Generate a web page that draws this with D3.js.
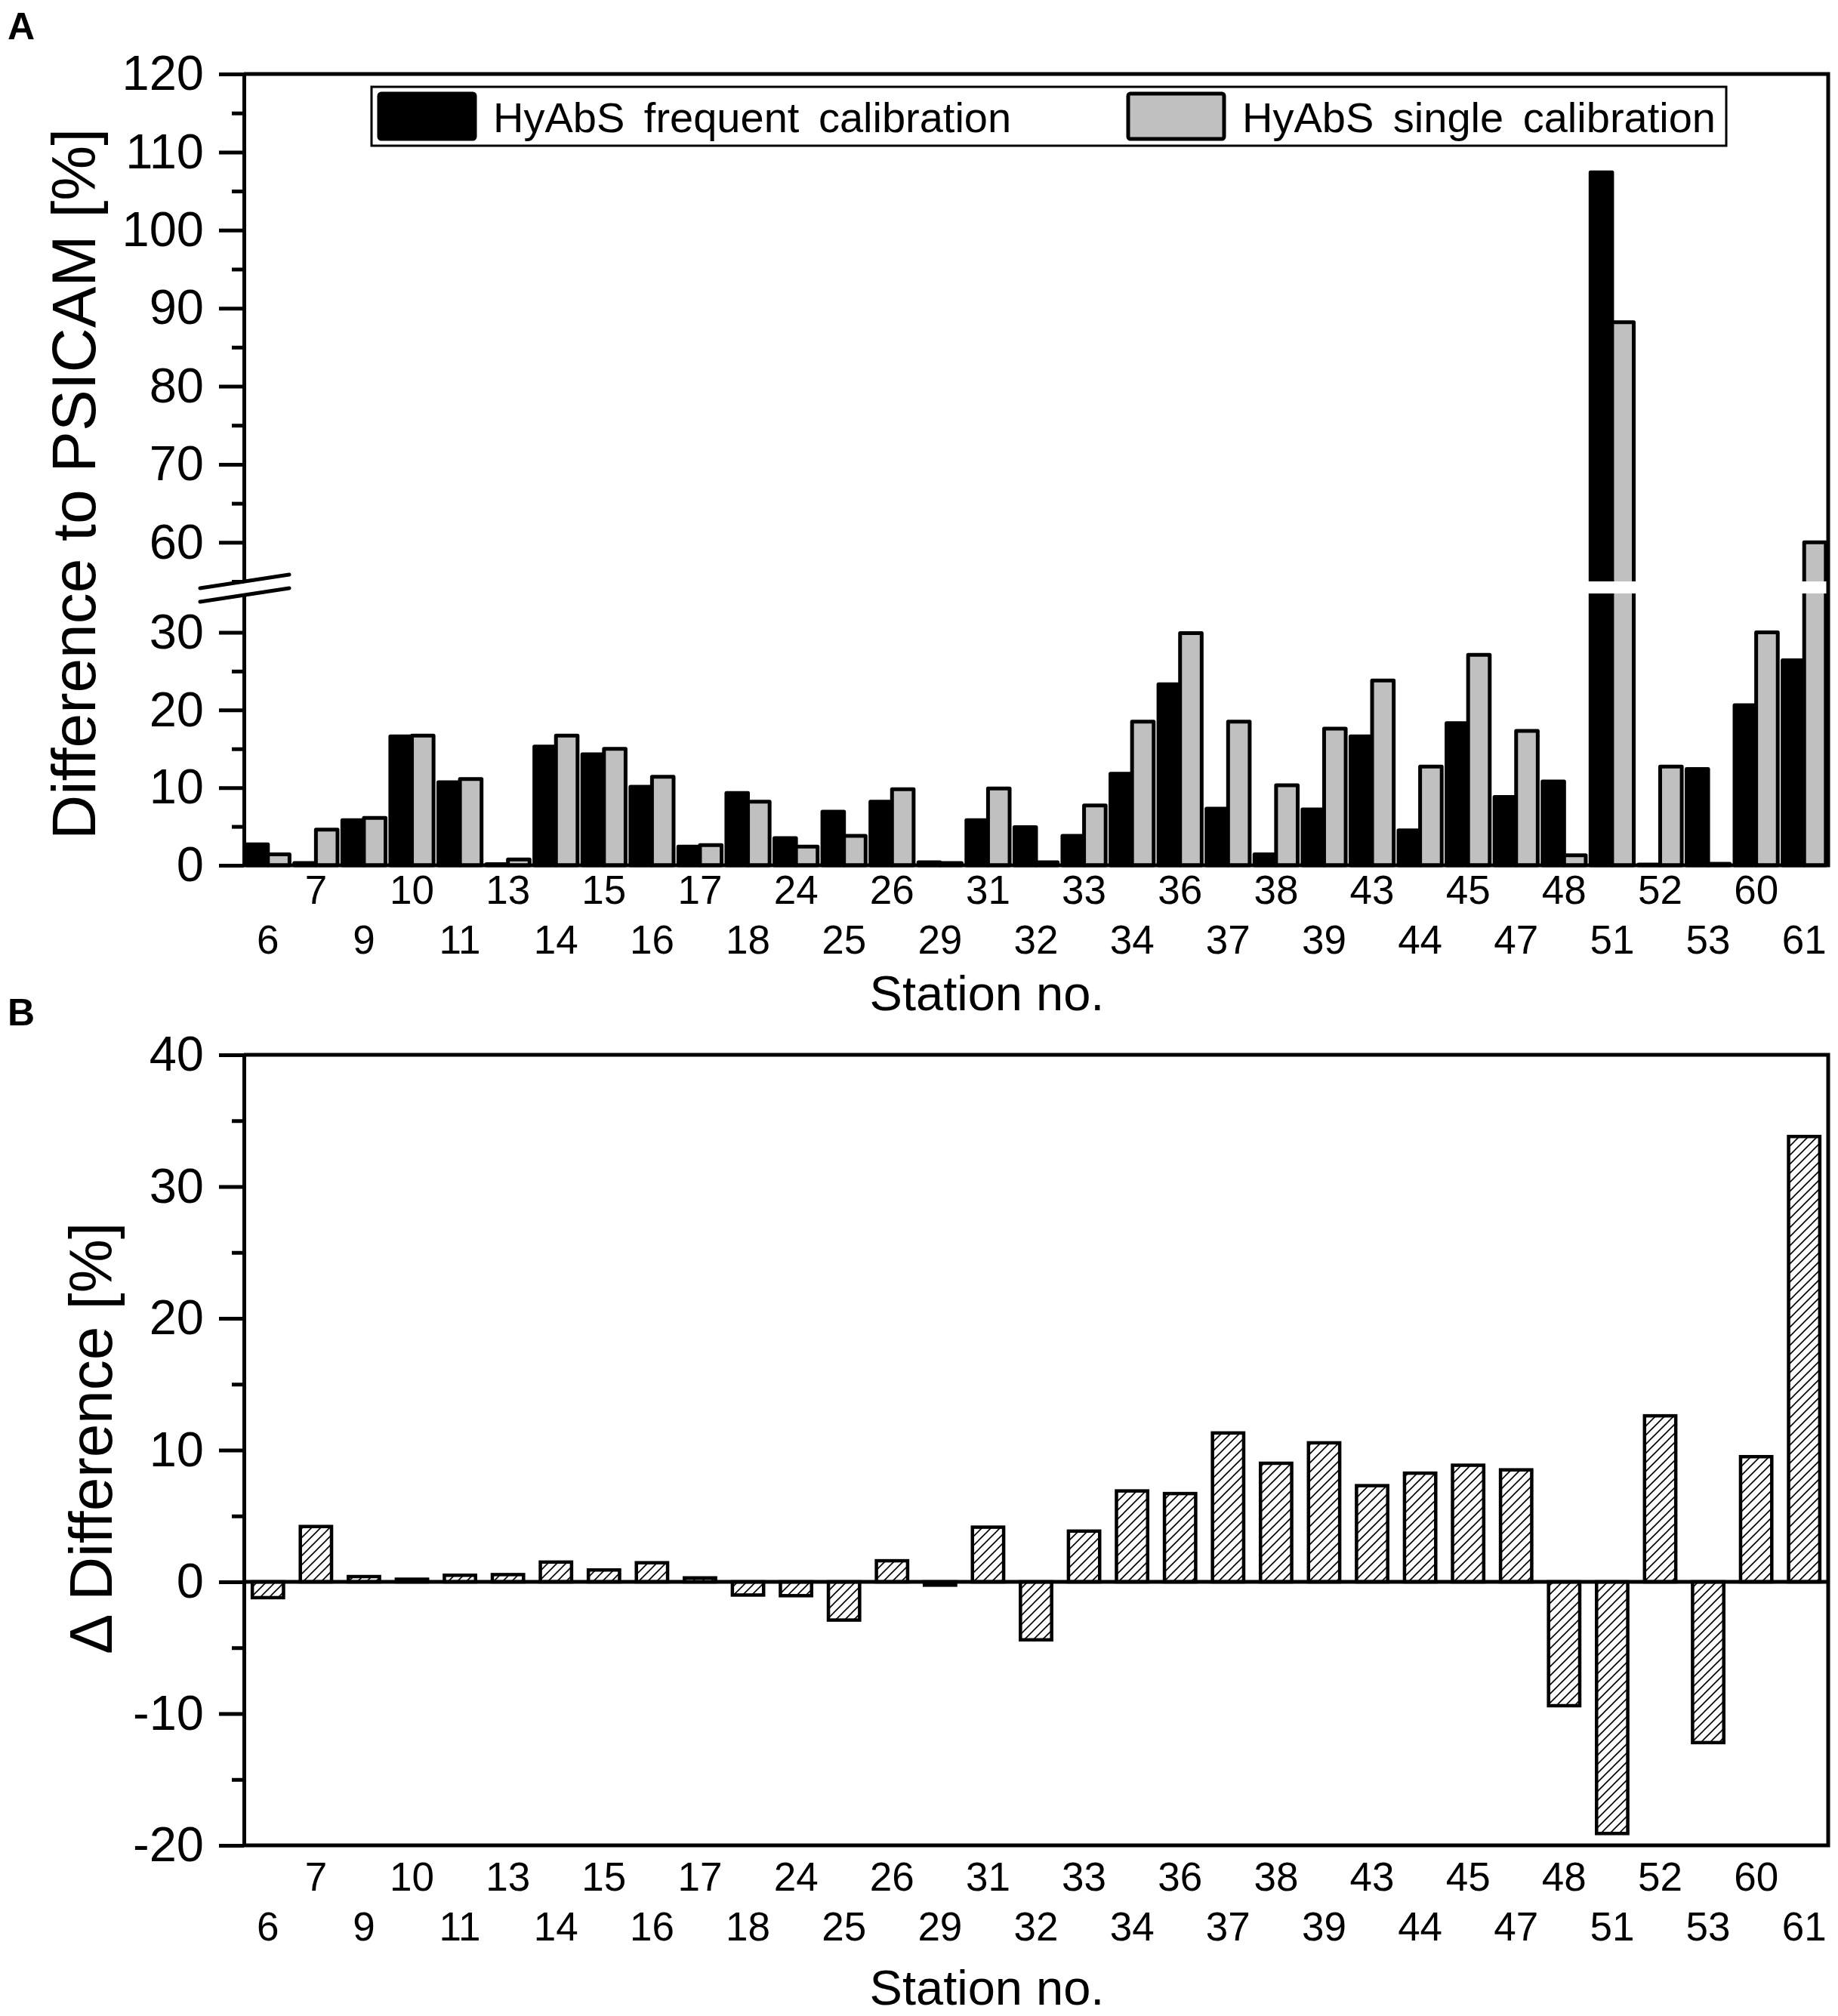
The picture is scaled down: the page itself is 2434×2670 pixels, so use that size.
<!DOCTYPE html>
<html>
<head>
<meta charset="utf-8">
<script src="https://cdn.jsdelivr.net/npm/d3@7"></script>
<style>
  body { margin: 0; background: #fff; }
  svg { display: block; font-family: "Liberation Sans", Arial, sans-serif; }
</style>
</head>
<body>
<div id="chart"></div>
<script>
// station numbers along the x axis
const stations = [6, 7, 9, 10, 11, 13, 14, 15, 16, 17, 18, 24, 25, 26, 29, 31, 32,
  33, 34, 36, 37, 38, 39, 43, 44, 45, 47, 48, 51, 52, 53, 60, 61];

// panel A: difference to PSICAM [%]
const frequentCal = [2.7, 0.3, 5.8, 16.6, 10.7, 0.15, 15.3, 14.3, 10.1, 2.4, 9.3, 3.5, 6.9,
  8.2, 0.4, 5.8, 4.9, 3.8, 11.8, 23.3, 7.3, 1.4, 7.2, 16.6, 4.5, 18.3, 8.8, 10.8,
  107.4, 0.1, 12.4, 20.6, 26.4];
const singleCal = [1.4, 4.6, 6.1, 16.7, 11.1, 0.75, 16.7, 15.0, 11.4, 2.6, 8.2, 2.4, 3.8,
  9.8, 0.3, 9.9, 0.4, 7.7, 18.5, 29.9, 18.5, 10.3, 17.6, 23.8, 12.7, 27.1, 17.3, 1.3,
  88.2, 12.7, 0.2, 30.0, 60.0];

// panel B: delta difference [%]
const deltaDiff = [-1.2, 4.2, 0.4, 0.2, 0.5, 0.55, 1.5, 0.9, 1.45, 0.3, -1.0, -1.05, -2.9,
  1.6, -0.25, 4.15, -4.4, 3.85, 6.9, 6.7, 11.3, 9.0, 10.55, 7.3, 8.25, 8.85, 8.5,
  -9.4, -19.1, 12.6, -12.2, 9.5, 33.8];

const seriesNames = ["HyAbS frequent calibration", "HyAbS single calibration"];
const ticksAUpper = [60, 70, 80, 90, 100, 110, 120];
const ticksALower = [0, 10, 20, 30];
const ticksB = [-20, -10, 0, 10, 20, 30, 40];

const W = 2434, H = 2670;
const left = 323, right = 2421;
const grey = "#c0c0c0";
const axisW = 5;

const svg = d3.select("#chart").append("svg")
  .attr("width", W).attr("height", H);

// hatch pattern for panel B
svg.append("defs").append("pattern")
  .attr("id", "hatch")
  .attr("patternUnits", "userSpaceOnUse")
  .attr("width", 12).attr("height", 12)
  .append("path")
  .attr("d", "M-3,3 L3,-3 M0,12 L12,0 M9,15 L15,9")
  .attr("stroke", "black").attr("stroke-width", 1.6);

function styleAxis(g, fontSize) {
  g.selectAll(".tick line").attr("stroke", "black").attr("stroke-width", axisW);
  g.select(".domain").attr("stroke", "black").attr("stroke-width", axisW);
  g.selectAll("text").attr("fill", "black").style("font-size", fontSize + "px")
    .style("font-family", "'Liberation Sans', Arial, sans-serif");
}

function stationLabels(g, x, axisY, off1, off2) {
  const ax = g.append("g").attr("transform", `translate(0,${axisY})`)
    .call(d3.axisBottom(x).tickSize(0).tickSizeOuter(0));
  ax.select(".domain").remove();
  ax.selectAll(".tick text")
    .attr("dy", 0)
    .attr("y", (d, i) => i % 2 ? off1 : off2)
    .attr("fill", "black")
    .style("font-size", "53px")
    .style("font-family", "'Liberation Sans', Arial, sans-serif");
}

// ---------------- Panel A ----------------
const aTop = 98, aBottom = 1146, gapTop = 770, gapBottom = 786;
const yLow = d3.scaleLinear().domain([0, 35]).range([aBottom, gapBottom]);
const yHigh = d3.scaleLinear().domain([55, 120]).range([gapTop, aTop]);
const yA = v => v <= 35 ? yLow(v) : yHigh(v);

const xA = d3.scaleBand().domain(stations).range([left, right])
  .paddingInner(0.1).paddingOuter(0.05);
const xSub = d3.scaleBand().domain([0, 1]).range([0, xA.bandwidth()]);

const gA = svg.append("g");

const rowsA = stations.map((s, i) => ({ s, vals: [frequentCal[i], singleCal[i]] }));
const groups = gA.selectAll("g.grp").data(rowsA).join("g")
  .attr("class", "grp")
  .attr("transform", d => `translate(${xA(d.s)},0)`);

groups.selectAll("rect").data(d => d.vals.map((v, k) => ({ v, k }))).join("rect")
  .attr("x", d => xSub(d.k))
  .attr("width", xSub.bandwidth())
  .attr("y", d => yA(d.v))
  .attr("height", d => aBottom - yA(d.v))
  .attr("fill", d => d.k === 0 ? "black" : grey)
  .attr("stroke", "black")
  .attr("stroke-width", 5)
  .attr("stroke-linejoin", "round");

// white break band across the bars that go past the break
groups.selectAll("rect.gap").data(d => d.vals.map((v, k) => ({ v, k })).filter(e => e.v > 35))
  .join("rect").attr("class", "gap")
  .attr("x", d => xSub(d.k) - 4)
  .attr("width", xSub.bandwidth() + 8)
  .attr("y", gapTop)
  .attr("height", gapBottom - gapTop)
  .attr("fill", "white");

// y axes (two segments)
const upperMinor = d3.range(55, 120, 10);
const lowerMinor = [5, 15, 25];
gA.append("g").attr("transform", `translate(${left},0)`)
  .call(d3.axisLeft(yHigh).tickValues(upperMinor).tickSize(16).tickSizeOuter(0).tickFormat(""))
  .call(g => styleAxis(g, 65));
gA.append("g").attr("transform", `translate(${left},0)`)
  .call(d3.axisLeft(yHigh).tickValues(ticksAUpper).tickSize(33).tickPadding(20).tickSizeOuter(0))
  .call(g => styleAxis(g, 65));
gA.append("g").attr("transform", `translate(${left},0)`)
  .call(d3.axisLeft(yLow).tickValues(lowerMinor).tickSize(16).tickSizeOuter(0).tickFormat(""))
  .call(g => styleAxis(g, 65));
gA.append("g").attr("transform", `translate(${left},0)`)
  .call(d3.axisLeft(yLow).tickValues(ticksALower).tickSize(33).tickPadding(20).tickSizeOuter(0))
  .call(g => styleAxis(g, 65));

// frame
gA.append("path")
  .attr("d", `M${left},${aTop} H${right} V${aBottom} H${left}`)
  .attr("fill", "none").attr("stroke", "black").attr("stroke-width", axisW)
  .attr("stroke-linejoin", "miter");

// break marks
[gapTop, gapBottom + 2].forEach(cy => {
  gA.append("line")
    .attr("x1", left - 58).attr("y1", cy + 9)
    .attr("x2", left + 60).attr("y2", cy - 9)
    .attr("stroke", "black").attr("stroke-width", 5).attr("stroke-linecap", "round");
});

stationLabels(gA, xA, aBottom, 51, 117);

gA.append("text")
  .attr("transform", `translate(126,641) rotate(-90)`)
  .attr("text-anchor", "middle")
  .style("font-size", "82px")
  .text("Difference to PSICAM [%]");

gA.append("text")
  .attr("x", 1307).attr("y", 1338)
  .attr("text-anchor", "middle")
  .style("font-size", "65px")
  .text("Station no.");

// legend
const lg = gA.append("g");
lg.append("rect").attr("x", 492).attr("y", 115).attr("width", 1794).attr("height", 78)
  .attr("fill", "white").attr("stroke", "black").attr("stroke-width", 3);
const legendItems = [
  { name: seriesNames[0], x: 500, fill: "black" },
  { name: seriesNames[1], x: 1492, fill: grey }
];
legendItems.forEach(it => {
  lg.append("rect").attr("x", it.x + 2).attr("y", 124).attr("width", 127).attr("height", 60)
    .attr("rx", 3)
    .attr("fill", it.fill).attr("stroke", "black").attr("stroke-width", 5);
  lg.append("text").attr("x", it.x + 153).attr("y", 175)
    .style("font-size", "56px").style("word-spacing", "10px").attr("fill", "black")
    .text(it.name);
});

svg.append("text").attr("x", 10).attr("y", 52)
  .style("font-size", "50px").style("font-weight", "bold").text("A");

// ---------------- Panel B ----------------
const bTop = 1397, bBottom = 2444;
const yB = d3.scaleLinear().domain([-20, 40]).range([bBottom, bTop]);
const xB = d3.scaleBand().domain(stations).range([left, right])
  .paddingInner(0.35).paddingOuter(0.175);

const gB = svg.append("g");

gB.selectAll("rect.bar").data(stations.map((s, i) => ({ s, v: deltaDiff[i] }))).join("rect")
  .attr("class", "bar")
  .attr("x", d => xB(d.s))
  .attr("width", xB.bandwidth())
  .attr("y", d => yB(Math.max(0, d.v)))
  .attr("height", d => Math.abs(yB(d.v) - yB(0)))
  .attr("fill", "url(#hatch)")
  .attr("stroke", "black")
  .attr("stroke-width", 4.5);

// zero line
gB.append("line")
  .attr("x1", left).attr("x2", right)
  .attr("y1", yB(0)).attr("y2", yB(0))
  .attr("stroke", "black").attr("stroke-width", axisW);

gB.append("g").attr("transform", `translate(${left},0)`)
  .call(d3.axisLeft(yB).tickValues(d3.range(-15, 40, 10)).tickSize(16).tickSizeOuter(0).tickFormat(""))
  .call(g => styleAxis(g, 65));
gB.append("g").attr("transform", `translate(${left},0)`)
  .call(d3.axisLeft(yB).tickValues(ticksB).tickSize(33).tickPadding(20).tickSizeOuter(0)
    .tickFormat(d => d < 0 ? "-" + Math.abs(d) : d))
  .call(g => styleAxis(g, 65));

gB.append("path")
  .attr("d", `M${left},${bTop} H${right} V${bBottom} H${left}`)
  .attr("fill", "none").attr("stroke", "black").attr("stroke-width", axisW);

stationLabels(gB, xB, bBottom, 60, 126);

gB.append("text")
  .attr("transform", `translate(148,1905) rotate(-90)`)
  .attr("text-anchor", "middle")
  .style("font-size", "80px")
  .text("\u0394 Difference [%]");

gB.append("text")
  .attr("x", 1307).attr("y", 2655)
  .attr("text-anchor", "middle")
  .style("font-size", "65px")
  .text("Station no.");

svg.append("text").attr("x", 10).attr("y", 1358)
  .style("font-size", "50px").style("font-weight", "bold").text("B");
</script>
</body>
</html>
